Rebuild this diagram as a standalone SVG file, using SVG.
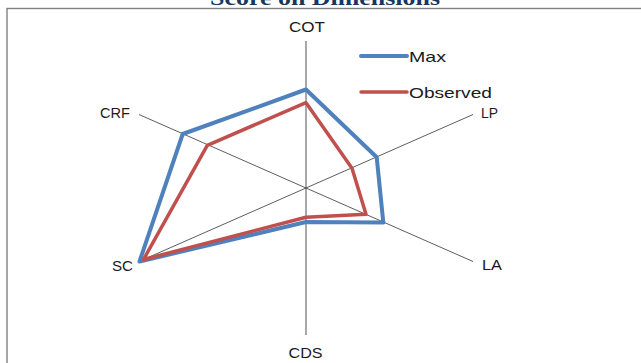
<svg xmlns="http://www.w3.org/2000/svg" width="641" height="363" viewBox="0 0 641 363">
<style>
.lbl{font-family:"Liberation Sans",Arial,sans-serif;font-size:15px;fill:#1a1a1a}
.title{font-family:"Liberation Serif","Times New Roman",serif;font-size:20px;font-weight:bold;fill:#17375E}
.axis{stroke:#333;stroke-width:0.8;fill:none}
.vaxis{stroke:#6e6e6e;stroke-width:1.2;fill:none}
.max{stroke:#4F81BD;stroke-width:4;fill:none;stroke-linejoin:round;stroke-linecap:round}
.obs{stroke:#C0504D;stroke-width:3.5;fill:none;stroke-linejoin:round;stroke-linecap:round}
</style>
<rect width="641" height="363" fill="#fff"/>
<g id="title"><text class="title" x="325" y="5" text-anchor="middle" textLength="230" lengthAdjust="spacingAndGlyphs">Score on Dimensions</text></g>
<g id="frame"><rect x="7" y="8.5" width="700" height="400" fill="none" stroke="#808080" stroke-width="1.4"/></g>
<g id="connectors">
<line class="vaxis" x1="306" y1="41" x2="306" y2="335"/>
<line class="axis" x1="139" y1="114.5" x2="473" y2="261.5"/>
<line class="axis" x1="139" y1="261.5" x2="473" y2="114.5"/>
</g>
<g id="series-max"><polygon class="max" points="306,89.5 376.7,157.3 383.3,222.5 306,222 139.5,261.5 182.7,134"/></g>
<g id="series-observed"><polygon class="obs" points="306,102.7 352,168.3 366,214.3 306,217.3 143.5,259.5 207.3,145.3"/></g>
<g id="label-cot"><text class="lbl" x="307" y="32" text-anchor="middle" textLength="36" lengthAdjust="spacingAndGlyphs">COT</text></g>
<g id="label-lp"><text class="lbl" x="481" y="117.5" textLength="17" lengthAdjust="spacingAndGlyphs">LP</text></g>
<g id="label-la"><text class="lbl" x="482" y="270" textLength="20" lengthAdjust="spacingAndGlyphs">LA</text></g>
<g id="label-cds"><text class="lbl" x="305.5" y="357.5" text-anchor="middle" textLength="34" lengthAdjust="spacingAndGlyphs">CDS</text></g>
<g id="label-sc"><text class="lbl" x="112" y="271" textLength="21" lengthAdjust="spacingAndGlyphs">SC</text></g>
<g id="label-crf"><text class="lbl" x="100" y="117.5" textLength="30" lengthAdjust="spacingAndGlyphs">CRF</text></g>
<g id="legend">
<line class="max" x1="361" y1="56" x2="407" y2="56" stroke-linecap="butt"/>
<text class="lbl" x="409" y="62" textLength="37" lengthAdjust="spacingAndGlyphs">Max</text>
<line class="obs" x1="361" y1="92" x2="407" y2="92" stroke-linecap="butt"/>
<text class="lbl" x="409" y="97.5" textLength="83" lengthAdjust="spacingAndGlyphs">Observed</text>
</g>
</svg>
